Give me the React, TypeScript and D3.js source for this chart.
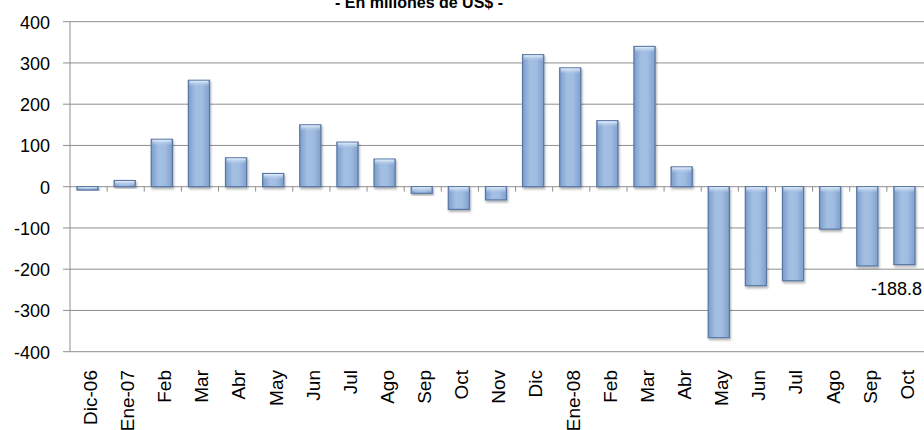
import React from "react";
import * as d3 from "d3";

const categories = ["Dic-06","Ene-07","Feb","Mar","Abr","May","Jun","Jul","Ago","Sep","Oct","Nov","Dic","Ene-08","Feb ","Mar ","Abr ","May ","Jun ","Jul ","Ago ","Sep ","Oct "];
const values = [-8, 15, 115, 258, 70, 32, 150, 108, 67, -16, -55, -32, 320, 288, 160, 340, 48, -366, -240, -228, -103, -192, -188.8];
const yTicks = [400, 300, 200, 100, 0, -100, -200, -300, -400];
const title = "- En millones de US$ -";
const dataLabel = "-188.8";

const W = 924, H = 430;

export default function App() {
  const x = d3.scaleBand<string>().domain(categories).range([70, 924]).paddingInner(0.43).paddingOuter(0.215);
  const xb = d3.scaleBand<string>().domain(categories).range([70, 924]);
  const y = d3.scaleLinear().domain([-400, 400]).range([351.7, 21.7]);
  const font = "'Liberation Sans', Arial, sans-serif";
  const bw = x.bandwidth();
  return (
    <svg width={W} height={H} style={{ position: "absolute", left: 0, top: 0, background: "#fff" }}>
      <defs>
        <linearGradient id="barg" x1="0" y1="0" x2="1" y2="0">
          <stop offset="0" stopColor="#7c9dcb" />
          <stop offset="0.35" stopColor="#a3bfe3" />
          <stop offset="0.65" stopColor="#a0bce1" />
          <stop offset="1" stopColor="#7f9fcc" />
        </linearGradient>
        <linearGradient id="topg" x1="0" y1="0" x2="0" y2="1">
          <stop offset="0" stopColor="#e6f0fb" />
          <stop offset="1" stopColor="#a9c4e6" stopOpacity="0" />
        </linearGradient>
        <filter id="sh" x="-20%" y="-20%" width="150%" height="150%">
          <feDropShadow dx="1" dy="2" stdDeviation="1.2" floodColor="#000" floodOpacity="0.3" />
        </filter>
      </defs>
      <text x={419} y={8} textAnchor="middle" fontFamily={font} fontWeight="bold" fontSize={16}>{title}</text>
      {yTicks.map((t) => (
        <g key={t}>
          <line x1={70} x2={924} y1={y(t)} y2={y(t)} stroke="#8f8f8f" strokeWidth={1} />
          <line x1={63} x2={70} y1={y(t)} y2={y(t)} stroke="#8f8f8f" strokeWidth={1} />
          <text x={50} y={y(t) + 7} textAnchor="end" fontFamily={font} fontSize={18} fill="#000">{t}</text>
        </g>
      ))}
      <line x1={70} x2={70} y1={y(400)} y2={y(-400)} stroke="#8f8f8f" strokeWidth={1} />
      {categories.slice(1).map((c) => (
        <line key={"t" + c} x1={xb(c)!} x2={xb(c)!} y1={y(0)} y2={y(0) + 5} stroke="#8f8f8f" strokeWidth={1} />
      ))}
      {categories.map((c, i) => {
        const v = values[i];
        const y0 = Math.min(y(0), y(v));
        const h = Math.abs(y(v) - y(0));
        const bx = x(c)! - 1;
        return (
          <g key={"b" + c} filter="url(#sh)">
            <rect x={bx} y={y0} width={bw} height={h} fill="url(#barg)" stroke="#5877a5" strokeWidth={1.2} />
            <rect x={bx + 1} y={y0 + 0.5} width={bw - 2} height={Math.min(6, h - 1)} fill="url(#topg)" />
          </g>
        );
      })}
      {categories.map((c) => (
        <text key={"l" + c} transform={`translate(${xb(c)! + xb.bandwidth() / 2 + 1.5},370) rotate(-90)`} dy="0.36em" textAnchor="end" fontFamily={font} fontSize={19} fill="#000">{c.trim()}</text>
      ))}
      <text x={922} y={295} textAnchor="end" fontFamily={font} fontSize={18} fill="#000">{dataLabel}</text>
    </svg>
  );
}
